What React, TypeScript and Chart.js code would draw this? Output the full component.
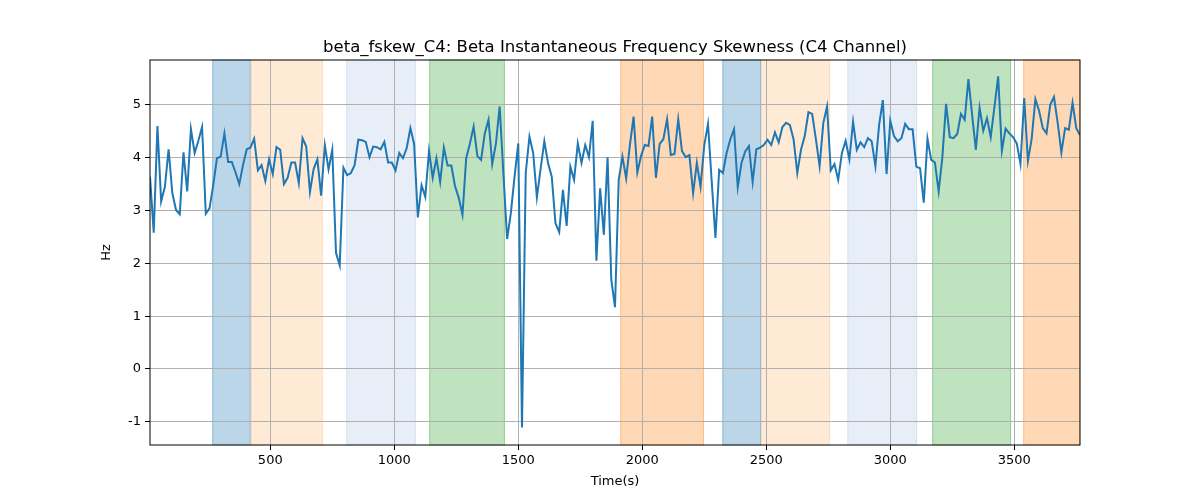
import React, { useEffect, useRef } from 'react';
import { Chart, registerables, Plugin } from 'chart.js';

Chart.register(...registerables);

// sampling grid of the signal (seconds)
const startTime = 15;
const sampleStep = 15;

const skewValues = [
  3.64, 2.58, 4.60, 3.17, 3.45, 4.16, 3.33, 3.01, 2.93, 4.10,
  3.36, 4.54, 4.09, 4.32, 4.58, 2.94, 3.04, 3.48, 3.99, 4.02,
  4.46, 3.92, 3.92, 3.72, 3.50, 3.86, 4.16, 4.19, 4.36, 3.76,
  3.86, 3.56, 3.97, 3.69, 4.20, 4.15, 3.50, 3.62, 3.91, 3.91,
  3.52, 4.37, 4.21, 3.35, 3.79, 3.97, 3.28, 4.24, 3.78, 4.15,
  2.20, 1.96, 3.81, 3.67, 3.71, 3.86, 4.34, 4.33, 4.30, 4.01,
  4.21, 4.20, 4.16, 4.30, 3.91, 3.91, 3.76, 4.09, 3.99, 4.18,
  4.56, 4.26, 2.87, 3.48, 3.26, 4.13, 3.62, 3.99, 3.54, 4.19,
  3.85, 3.85, 3.46, 3.24, 2.92, 3.99, 4.27, 4.59, 4.03, 3.96,
  4.46, 4.72, 3.88, 4.27, 4.97, 3.70, 2.46, 2.95, 3.64, 4.27,
  -1.11, 3.71, 4.40, 4.09, 3.25, 3.79, 4.31, 3.90, 3.64, 2.76,
  2.59, 3.39, 2.71, 3.83, 3.58, 4.27, 3.90, 4.24, 4.01, 4.70,
  2.05, 3.42, 2.54, 4.01, 1.69, 1.17, 3.58, 4.02, 3.61, 4.24,
  4.78, 3.72, 4.03, 4.24, 4.22, 4.78, 3.62, 4.26, 4.35, 4.73,
  4.05, 4.07, 4.73, 4.13, 4.01, 4.05, 3.33, 3.90, 3.45, 4.24,
  4.64, 3.55, 2.48, 3.77, 3.71, 4.09, 4.35, 4.54, 3.44, 3.90,
  4.12, 4.22, 3.54, 4.16, 4.19, 4.24, 4.34, 4.24, 4.48, 4.29,
  4.58, 4.66, 4.62, 4.35, 3.71, 4.15, 4.41, 4.86, 4.83, 4.35,
  3.84, 4.66, 4.97, 3.76, 3.88, 3.58, 4.09, 4.32, 3.97, 4.68,
  4.15, 4.29, 4.20, 4.37, 4.31, 3.84, 4.62, 5.09, 3.69, 4.70,
  4.41, 4.31, 4.37, 4.64, 4.54, 4.54, 3.83, 3.80, 3.15, 4.36,
  3.96, 3.91, 3.36, 4.01, 5.02, 4.39, 4.37, 4.45, 4.83, 4.72,
  5.49, 4.81, 4.15, 4.95, 4.51, 4.75, 4.39, 4.96, 5.54, 4.13,
  4.55, 4.46, 4.39, 4.27, 3.88, 5.13, 3.94, 4.35, 5.11, 4.89,
  4.56, 4.46, 5.00, 5.15, 4.66, 4.10, 4.56, 4.53, 5.04, 4.56, 4.43,
];

// shaded intervals (seconds)
const bandStarts = [266, 421, 806, 1141, 1911, 2323, 2479, 2827, 3169, 3536];
const bandEnds = [421, 712, 1087, 1446, 2249, 2479, 2757, 3108, 3487, 3765];
const bandColors = [
  'rgba(31,119,180,0.3)',
  'rgba(255,187,120,0.3)',
  'rgba(174,199,232,0.3)',
  'rgba(44,160,44,0.3)',
  'rgba(255,127,14,0.3)',
  'rgba(31,119,180,0.3)',
  'rgba(255,187,120,0.3)',
  'rgba(174,199,232,0.3)',
  'rgba(44,160,44,0.3)',
  'rgba(255,127,14,0.3)',
];

const xTicks = [500, 1000, 1500, 2000, 2500, 3000, 3500];
const yTicks = [-1, 0, 1, 2, 3, 4, 5];

const titleText = 'beta_fskew_C4: Beta Instantaneous Frequency Skewness (C4 Channel)';
const FONT = '"DejaVu Sans", sans-serif';

// 背景色带
const bandsPlugin: Plugin<'line'> = {
  id: 'bands',
  beforeDraw(chart) {
    const { ctx, chartArea } = chart;
    const x = chart.scales.x;
    ctx.save();
    bandStarts.forEach((s, i) => {
      const x0 = x.getPixelForValue(s);
      const x1 = x.getPixelForValue(bandEnds[i]);
      ctx.fillStyle = bandColors[i];
      ctx.fillRect(x0, chartArea.top, x1 - x0, chartArea.bottom - chartArea.top);
      ctx.strokeStyle = bandColors[i];
      ctx.lineWidth = 1;
      ctx.strokeRect(x0 + 0.5, chartArea.top, x1 - x0 - 1, chartArea.bottom - chartArea.top);
    });
    ctx.restore();
  },
};

// 边框和标题
const framePlugin: Plugin<'line'> = {
  id: 'frame',
  afterDraw(chart) {
    const { ctx, chartArea } = chart;
    ctx.save();
    ctx.strokeStyle = '#000';
    ctx.lineWidth = 1;
    ctx.strokeRect(chartArea.left, chartArea.top, chartArea.right - chartArea.left, chartArea.bottom - chartArea.top);
    ctx.fillStyle = '#000';
    ctx.font = `16.5px ${FONT}`;
    ctx.textAlign = 'center';
    ctx.textBaseline = 'alphabetic';
    ctx.fillText(titleText, (chartArea.left + chartArea.right) / 2, chartArea.top - 8);
    ctx.restore();
  },
};

const App: React.FC = () => {
  const chartRef = useRef<HTMLCanvasElement>(null);

  useEffect(() => {
    document.body.style.margin = '0';
    if (!chartRef.current) return;
    const points = skewValues.map((v, i) => ({ x: startTime + i * sampleStep, y: v }));

    const chart = new Chart(chartRef.current, {
      type: 'line',
      data: {
        datasets: [
          {
            data: points,
            borderColor: '#1f77b4',
            borderWidth: 2,
            pointRadius: 0,
            tension: 0,
            fill: false,
          },
        ],
      },
      options: {
        animation: false,
        responsive: false,
        maintainAspectRatio: false,
        layout: { padding: { left: 0, right: 120, top: 60, bottom: 0 } },
        plugins: {
          legend: { display: false },
          tooltip: { enabled: false },
          title: { display: false },
        },
        scales: {
          x: {
            type: 'linear',
            min: startTime,
            max: startTime + (skewValues.length - 1) * sampleStep,
            afterBuildTicks: (scale) => {
              scale.ticks = xTicks.map((v) => ({ value: v }));
            },
            afterFit: (scale) => {
              scale.height = 55;
            },
            grid: {
              color: '#b0b0b0',
              lineWidth: 1,
              drawTicks: true,
              tickLength: 5,
              tickColor: '#000',
            },
            border: { display: false },
            ticks: {
              color: '#000',
              font: { family: FONT, size: 13 },
              padding: 3,
              maxRotation: 0,
              autoSkip: false,
              callback: (v) => String(v),
            },
            title: {
              display: true,
              text: 'Time(s)',
              color: '#000',
              font: { family: FONT, size: 13 },
              padding: { top: 0, bottom: 11 },
            },
          },
          y: {
            type: 'linear',
            min: -1.44,
            max: 5.85,
            afterBuildTicks: (scale) => {
              scale.ticks = yTicks.map((v) => ({ value: v }));
            },
            afterFit: (scale) => {
              scale.width = 150;
            },
            grid: {
              color: '#b0b0b0',
              lineWidth: 1,
              drawTicks: true,
              tickLength: 5,
              tickColor: '#000',
            },
            border: { display: false },
            ticks: {
              color: '#000',
              font: { family: FONT, size: 13 },
              padding: 4,
              autoSkip: false,
              callback: (v) => String(v),
            },
            title: {
              display: true,
              text: 'Hz',
              color: '#000',
              font: { family: FONT, size: 13 },
              padding: { top: 99, bottom: 0 },
            },
          },
        },
      },
      plugins: [bandsPlugin, framePlugin],
    });

    return () => {
      chart.destroy();
    };
  }, []);

  return (
    <div style={{ width: 1200, height: 500, background: '#fff' }}>
      <canvas ref={chartRef} width={1200} height={500} />
    </div>
  );
};

export default App;
